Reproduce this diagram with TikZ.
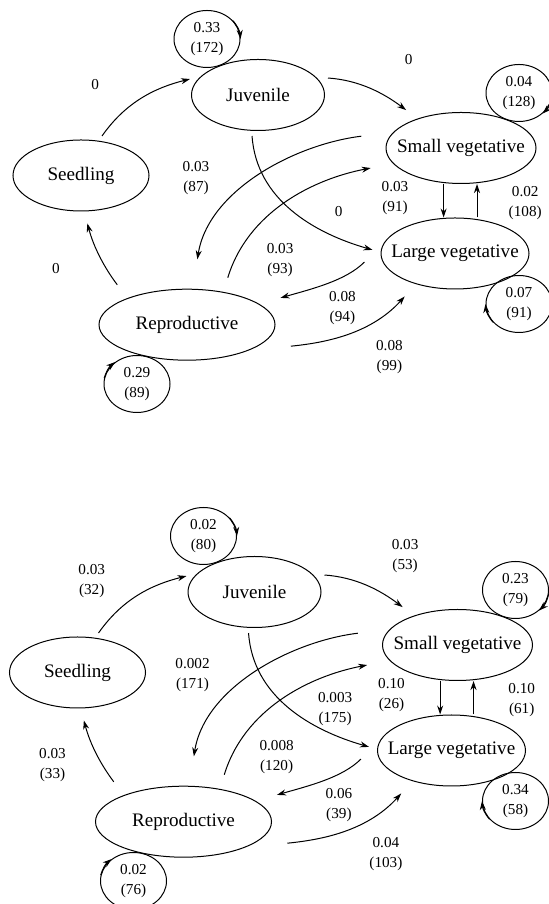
\documentclass[tikz,border=0pt]{standalone}
\usepackage{fontspec}
\setmainfont{Liberation Serif}
\usetikzlibrary{arrows.meta, shapes.geometric}

\begin{document}
\begin{tikzpicture}[
		% Unidad: medio punto por pixel de la figura
		x=0.5pt, y=0.5pt,
		% Estados del ciclo de vida y lazos de permanencia
		estado/.style={draw, ellipse, line width=0.5pt, minimum height=35.5pt, inner sep=0pt, inner xsep=-10pt, font=\fontsize{9.55}{11}\selectfont},
		lazo/.style={draw, ellipse, line width=0.5pt, minimum width=33pt, minimum height=28.5pt, inner sep=0pt, align=center, font=\fontsize{7.6}{10}\selectfont},
		% Flechas y etiquetas de las transiciones
		flecha/.style={-{Stealth[length=4.5pt, width=3pt]}, line width=0.5pt},
		etiqueta/.style={align=center, inner sep=0pt, font=\fontsize{7.6}{10}\selectfont}
		]
		
		\useasboundingbox (0,0) rectangle (549,904);
		
		% --- PANEL SUPERIOR ---
		\begin{scope}[name prefix=a-]
			\node[estado, minimum width=66.5pt] (juv) at (258,809) {Juvenile};
			\node[estado, minimum width=68pt] (seed) at (81,728.5) {Seedling};
			\node[estado, minimum width=75pt] (sv) at (461,756) {Small vegetative};
			\node[estado, minimum width=74pt] (lv) at (455,650.5) {Large vegetative};
			\node[estado, minimum width=88pt] (rep) at (187,579.3) {Reproductive};
			
			% Lazos de permanencia
			\node[lazo] (ljuv) at (207,865) {0.33\\(172)};
			\node[lazo] (lsv) at (519,811) {0.04\\(128)};
			\node[lazo] (llv) at (519,600) {0.07\\(91)};
			\node[lazo] (lrep) at (137,520) {0.29\\(89)};
			\draw[flecha] (ljuv.35) to[bend left=17] (ljuv.east);
			\draw[flecha] (lsv.-6) to[bend left=17] (lsv.-41);
			\draw[flecha] (llv.215) to[bend left=17] (llv.west);
			\draw[flecha] (lrep.170) to[bend left=17] (lrep.135);
			
			% Transiciones entre estados
			\draw[flecha, shorten <=2.9pt, shorten >=5.5pt] (seed.63) to[out=55, in=194] (juv.162);
			\draw[flecha, shorten <=5.9pt, shorten >=7.1pt] (juv.17) to[out=-4, in=143] (sv.146);
			\draw[flecha, shorten <=2.6pt, shorten >=4.2pt] (juv.-100) to[out=-86, in=164] (lv.179);
			\draw[flecha, shorten <=16pt, shorten >=14.9pt] (sv.167) to[out=187, in=81] (rep.81);
			\draw[flecha, shorten <=7.4pt, shorten >=11.4pt] (rep.42) to[out=73, in=191] (sv.193);
			\draw[flecha, shorten <=14pt, shorten >=11pt] (lv.171) to[out=225, in=16] (rep.16);
			\draw[flecha, shorten <=21.4pt, shorten >=8.3pt] (rep.-23) to[out=6, in=228] (lv.218);
			\draw[flecha, shorten <=8.3pt, shorten >=6.2pt] (rep.156) to[out=127, in=-75] (seed.-85);
			\draw[flecha] ([xshift=-8.7pt]sv.south) -- ([xshift=-8.7pt]sv.south |- lv.north);
			\draw[flecha] ([xshift=11pt]lv.north) -- ([xshift=11pt]lv.north |- sv.south);
			
			% Probabilidades (tamaño de muestra)
			\node[etiqueta] (e-sj) at (95.2,819.7) {0};
			\node[etiqueta] (e-js) at (408.6,844.7) {0};
			\node[etiqueta] (e-jl) at (338.6,692.3) {0};
			\node[etiqueta] (e-sr) at (196,725.7) {0.03\\(87)};
			\node[etiqueta] (e-rs) at (280.1,644) {0.03\\(93)};
			\node[etiqueta] (e-lr) at (342.4,595.7) {0.08\\(94)};
			\node[etiqueta] (e-rl) at (389.4,547.3) {0.08\\(99)};
			\node[etiqueta] (e-rsd) at (56,635.7) {0};
			\node[etiqueta] (e-sl) at (395,705.7) {0.03\\(91)};
			\node[etiqueta] (e-ls) at (525.2,700.7) {0.02\\(108)};
		\end{scope}
		
		% --- PANEL INFERIOR ---
		\begin{scope}[name prefix=b-, shift={(-3.5,-497)}]
			\node[estado, minimum width=66.5pt] (juv) at (258,809) {Juvenile};
			\node[estado, minimum width=68pt] (seed) at (81,728.5) {Seedling};
			\node[estado, minimum width=75pt] (sv) at (461,756) {Small vegetative};
			\node[estado, minimum width=74pt] (lv) at (455,650.5) {Large vegetative};
			\node[estado, minimum width=88pt] (rep) at (187,579.3) {Reproductive};
			
			% Lazos de permanencia
			\node[lazo] (ljuv) at (207,865) {0.02\\(80)};
			\node[lazo] (lsv) at (519,811) {0.23\\(79)};
			\node[lazo] (llv) at (519,600) {0.34\\(58)};
			\node[lazo] (lrep) at (137,520) {0.02\\(76)};
			\draw[flecha] (ljuv.35) to[bend left=17] (ljuv.east);
			\draw[flecha] (lsv.-6) to[bend left=17] (lsv.-41);
			\draw[flecha] (llv.215) to[bend left=17] (llv.west);
			\draw[flecha] (lrep.170) to[bend left=17] (lrep.135);
			
			% Transiciones entre estados
			\draw[flecha, shorten <=2.9pt, shorten >=5.5pt] (seed.63) to[out=55, in=194] (juv.162);
			\draw[flecha, shorten <=5.9pt, shorten >=7.1pt] (juv.17) to[out=-4, in=143] (sv.146);
			\draw[flecha, shorten <=2.6pt, shorten >=4.2pt] (juv.-100) to[out=-86, in=164] (lv.179);
			\draw[flecha, shorten <=16pt, shorten >=14.9pt] (sv.167) to[out=187, in=81] (rep.81);
			\draw[flecha, shorten <=7.4pt, shorten >=11.4pt] (rep.42) to[out=73, in=191] (sv.193);
			\draw[flecha, shorten <=14pt, shorten >=11pt] (lv.171) to[out=225, in=16] (rep.16);
			\draw[flecha, shorten <=21.4pt, shorten >=8.3pt] (rep.-23) to[out=6, in=228] (lv.218);
			\draw[flecha, shorten <=8.3pt, shorten >=6.2pt] (rep.156) to[out=127, in=-75] (seed.-85);
			\draw[flecha] ([xshift=-8.7pt]sv.south) -- ([xshift=-8.7pt]sv.south |- lv.north);
			\draw[flecha] ([xshift=11pt]lv.north) -- ([xshift=11pt]lv.north |- sv.south);
			
			% Probabilidades (tamaño de muestra)
			\node[etiqueta] (e-sj) at (95.2,819.7) {0.03\\(32)};
			\node[etiqueta] (e-js) at (408.6,844.7) {0.03\\(53)};
			\node[etiqueta] (e-jl) at (338.6,692.3) {0.003\\(175)};
			\node[etiqueta] (e-sr) at (196,725.7) {0.002\\(171)};
			\node[etiqueta] (e-rs) at (280.1,644) {0.008\\(120)};
			\node[etiqueta] (e-lr) at (342.4,595.7) {0.06\\(39)};
			\node[etiqueta] (e-rl) at (389.4,547.3) {0.04\\(103)};
			\node[etiqueta] (e-rsd) at (56,635.7) {0.03\\(33)};
			\node[etiqueta] (e-sl) at (395,705.7) {0.10\\(26)};
			\node[etiqueta] (e-ls) at (525.2,700.7) {0.10\\(61)};
		\end{scope}
		
	\end{tikzpicture}
\end{document}
